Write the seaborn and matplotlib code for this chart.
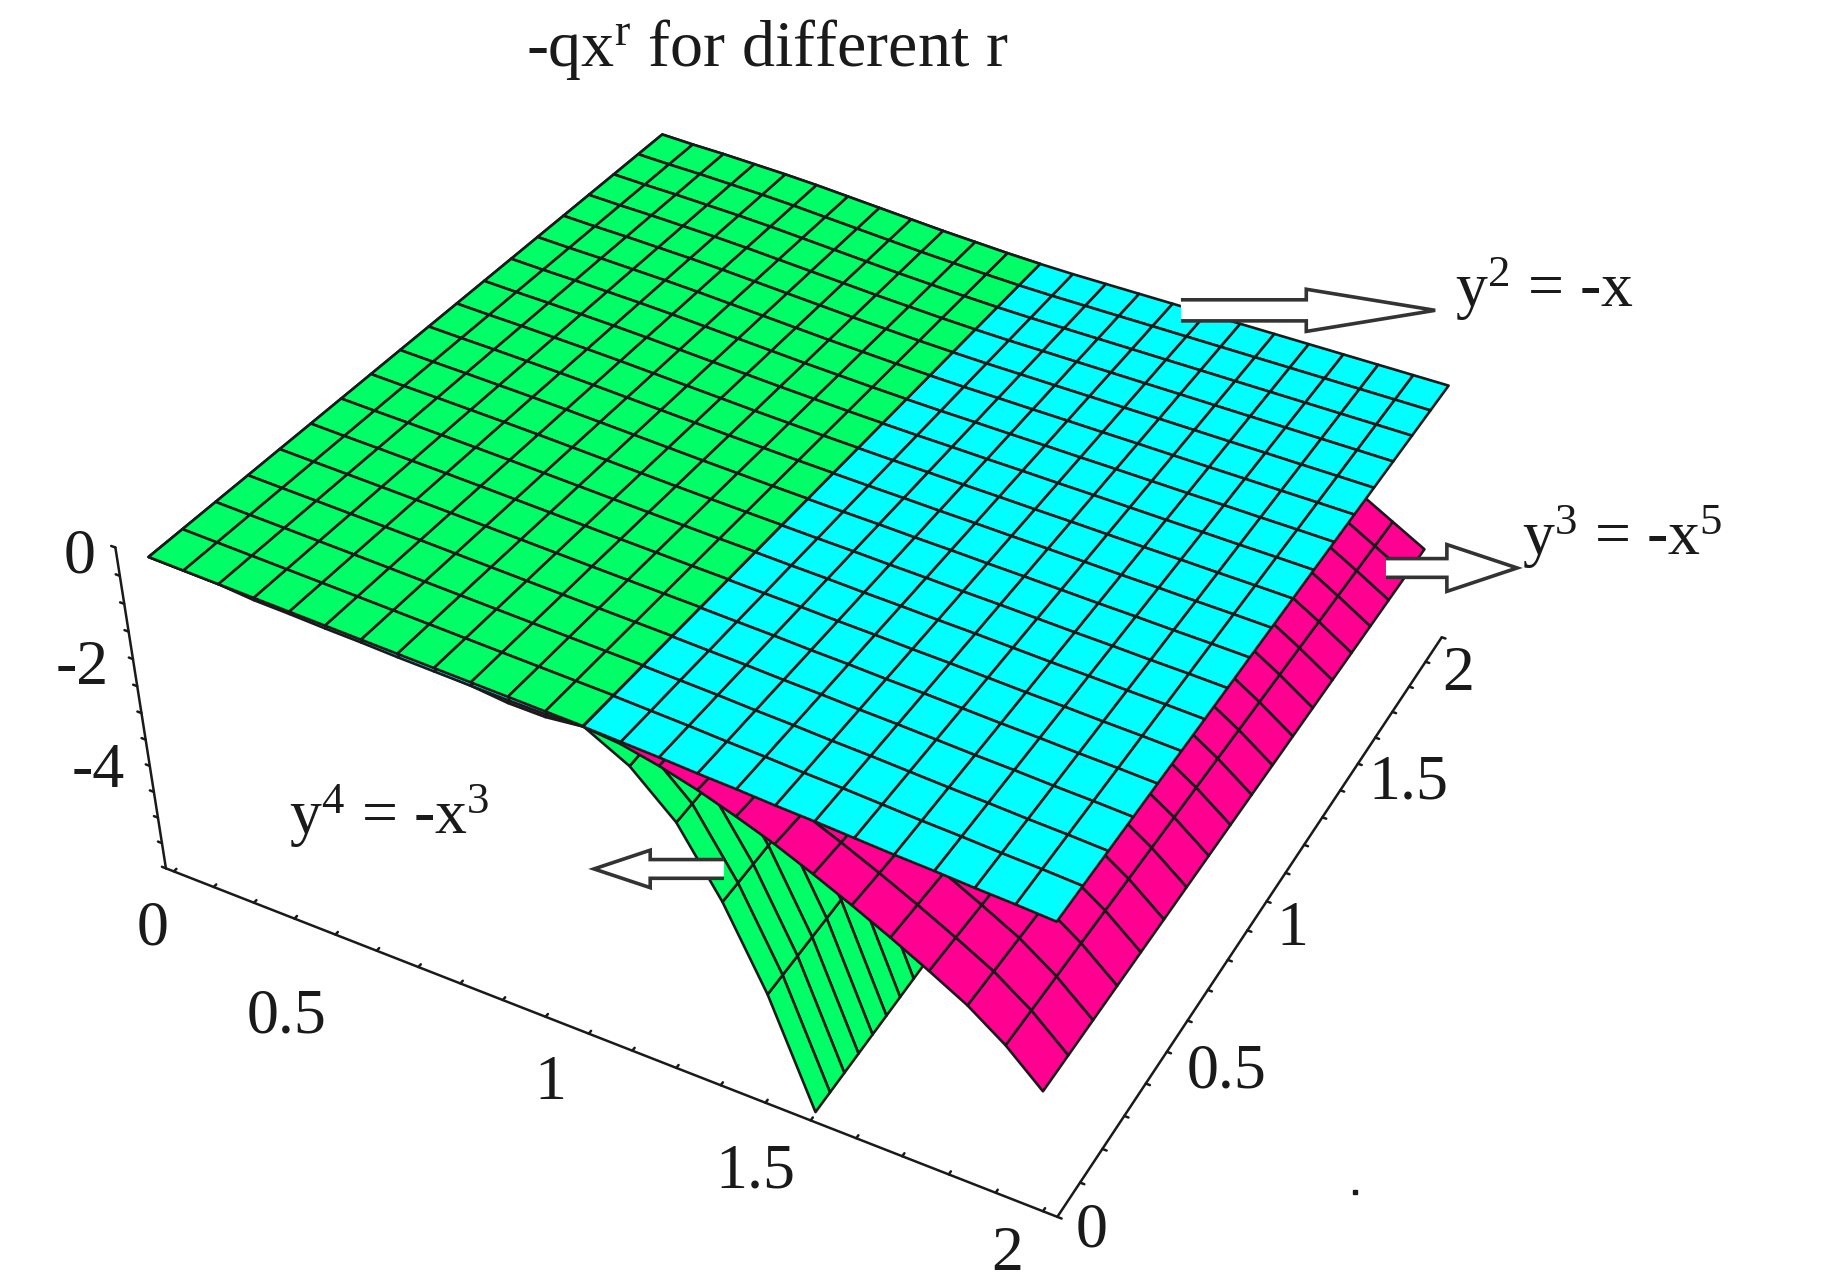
import numpy as np
import matplotlib
matplotlib.use("Agg")
import matplotlib.pyplot as plt
from matplotlib.patches import Polygon
import seaborn as sns

sns.set_theme(style="white")
plt.rcParams["font.family"] = ["Liberation Serif", "DejaVu Serif"]
plt.rcParams["mathtext.fontset"] = "custom"
plt.rcParams["mathtext.rm"] = "Liberation Serif"
plt.rcParams["mathtext.it"] = "Liberation Serif"
plt.rcParams["mathtext.default"] = "regular"

# mesh lines, 24 cells in x and 18 in y
x_vals = np.linspace(0.02, 1.98, 25)
y_vals = np.linspace(0, 2, 19)
y_weight = [0, .056, .111, .167, .222, .278, .333, .389, .444, .5, .556, .611, .667, .722, .778, .833, .889, .944, 1]

# height of each surface along its y = 0 edge and its y = 2 edge
top_front = [-.02, -.04, -.06, -.08, -.10, -.12, -.14, -.16, -.18, -.20, -.22, -.24, -.26,
             -.30, -.33, -.37, -.40, -.44, -.47, -.51, -.55, -.58, -.62, -.65, -.69]
top_back = [-.82, -.84, -.85, -.87, -.89, -.92, -.96, -1.00, -1.04, -1.08, -1.11, -1.14, -1.16,
            -1.17, -1.17, -1.17, -1.17, -1.17, -1.17, -1.17, -1.17, -1.17, -1.17, -1.17, -1.17]
cyan_front = [-.02, -.04, -.06, -.12, -.14, -.17, -.19, -.22, -.24, -.26, -.28, -.29, -.27,
              -.30, -.33, -.37, -.40, -.44, -.47, -.51, -.55, -.58, -.62, -.65, -.69]
pink_front = [-.02, -.04, -.06, -.10, -.12, -.14, -.17, -.20, -.22, -.26, -.33, -.34, -.27,
              -.34, -.48, -.66, -.88, -1.12, -1.4, -1.7, -2.02, -2.36, -2.72, -3.18, -3.76]
pink_back = [-.9, -.92, -.93, -.95, -.97, -1.0, -1.04, -1.08, -1.12, -1.16, -1.19, -1.22, -1.24,
             -1.4, -1.62, -1.88, -2.14, -2.4, -2.66, -2.92, -3.18, -3.44, -3.7, -4.04, -4.38]
x_spike = [1.0, 1.1, 1.2, 1.3, 1.4, 1.51]
y_spike = [0, .06, .12, .18, .24, .30, .36, .42, .48, .54, .60]
z_spike = [-.26, -.67, -1.37, -2.5, -3.9, -5.8]

green, cyan, pink = sns.color_palette(["#00ff66", "#00ffff", "#ff0090"])

fig = plt.figure(figsize=(18.37, 12.87), dpi=100)
ax = fig.add_axes([0.0695, -0.0072, 0.7440, 1.0615], projection="3d", computed_zorder=False)
ax.set_xlim(0, 2)
ax.set_ylim(0, 2)
ax.set_zlim(-6, 0)
ax.set_proj_type("persp", focal_length=0.526)
ax.view_init(elev=37.741, azim=-63.649, roll=-1.742)
ax.set_box_aspect((1, 1.022, 0.417))
ax.set_axis_off()

# axes frame
frame = dict(color="k", lw=1.8, zorder=0, clip_on=False)
ax.plot([-0.02, 2.03], [0, 0], [-6, -6], **frame)
ax.plot([2.03, 2.05], [0, 2], [-6, -6], **frame)
ax.plot([-0.02, -0.052], [0, -0.009], [-6, 0], **frame)
for v in np.arange(0, 2.01, 0.1):
    ax.plot([v, v], [0, 0.009], [-6, -6], **frame)
    ax.plot([2.03 + 0.01 * v, 2.039 + 0.01 * v], [v, v], [-6, -6], **frame)
for v in np.arange(-6, 0.01, 0.5):
    t = (v + 6) / 6
    ax.plot([-0.02 - 0.032 * t, -0.03 - 0.032 * t], [-0.009 * t, -0.009 * t], [v, v], **frame)


def surface(xs, ys, front, back, weight, color, z):
    X, Y = np.meshgrid(xs, ys)
    Z = np.outer(1 - np.array(weight), front) + np.outer(weight, back)
    s = ax.plot_surface(X, Y, Z, rstride=1, cstride=1, color=color, edgecolor="k",
                        linewidth=1.9, shade=False, zorder=z)
    s.set_clip_on(False)


surface(x_spike, y_spike, z_spike, z_spike, np.zeros(len(y_spike)), green, 1)
surface(x_vals, y_vals, pink_front, pink_back, y_weight, pink, 2)
surface(x_vals, y_vals, cyan_front, top_back, y_weight, cyan, 3)
surface(x_vals[:13], y_vals, top_front[:13], top_back[:13], y_weight, green, 4)

# labels and arrows, in reference pixels
W, H = 1568.0, 1099.0
ov = fig.add_axes([0, 0, 1, 1], facecolor="none")
ov.set_xlim(0, W)
ov.set_ylim(H, 0)
ov.axis("off")
lab = dict(fontsize=46, ha="center", va="center", color="k")
ov.text(655, 42, "-qx$^{r}$ for different r", fontsize=47.5, ha="center", va="center", color="k")
for t, xx, yy in [("0", 68, 476), ("-2", 70, 571), ("-4", 84, 659),
                  ("0", 130, 794), ("0.5", 245, 869), ("1", 470, 926), ("1.5", 645, 1001), ("2", 860, 1072),
                  ("0", 932, 1052), ("0.5", 1047, 916), ("1", 1103, 794), ("1.5", 1202, 669), ("2", 1245, 576)]:
    ov.text(xx, yy, t, **lab)
ov.text(1318, 247, "y$^{2}$ = -x", **lab)
ov.text(1385, 459, "y$^{3}$ = -x$^{5}$", **lab)
ov.text(332, 697, "y$^{4}$ = -x$^{3}$", **lab)


def arrow(x0, x1, xh, yc, tail, head):
    neck = xh + (x1 - xh) * 0.45
    pts = [(x0, yc - tail), (xh, yc - tail), (xh, yc - head), (neck, yc - head * 0.55), (x1, yc),
           (neck, yc + head * 0.55), (xh, yc + head), (xh, yc + tail), (x0, yc + tail)]
    ov.add_patch(Polygon(pts, closed=False, facecolor="white", edgecolor="#333333", lw=2.6))


arrow(1008, 1225, 1115, 265, 9, 18)
arrow(1183, 1295, 1235, 485, 8, 20)
arrow(618, 507, 555, 742, 8, 16)
ov.plot(1157, 1018, "s", color="k", ms=3)

fig.savefig("out.png", dpi=100)
